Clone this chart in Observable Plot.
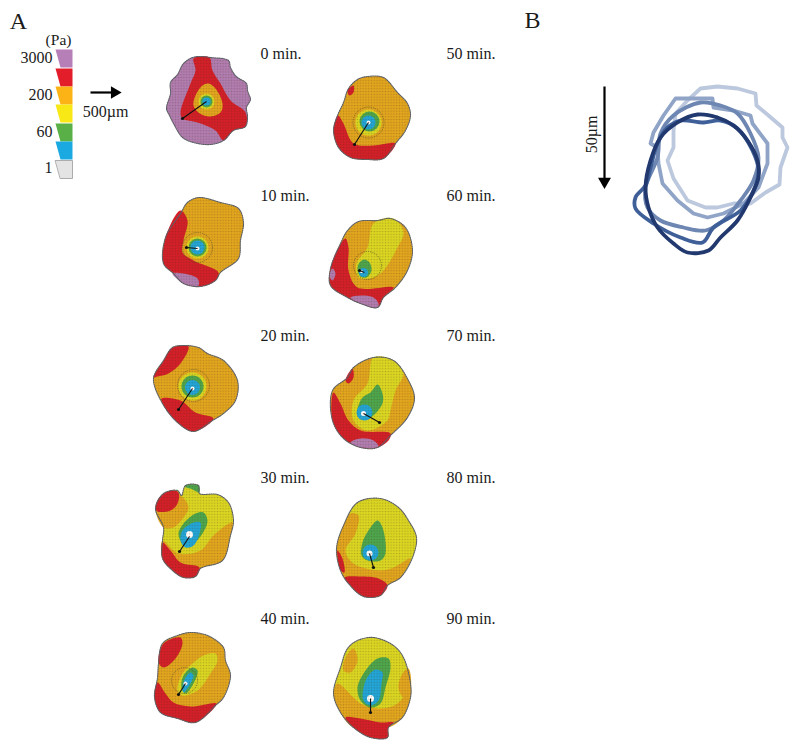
<!DOCTYPE html>
<html><head><meta charset="utf-8">
<script src="https://cdn.jsdelivr.net/npm/d3@7"></script>
<script src="https://cdn.jsdelivr.net/npm/@observablehq/plot@0.6"></script>
<style>html,body{margin:0;padding:0;background:#fff}svg{display:block}</style>
</head><body>
<svg width="0" height="0" style="position:absolute"><defs>
<pattern id="mesh" width="2.8" height="2.8" patternUnits="userSpaceOnUse"><circle cx="1.4" cy="1.4" r="0.8" fill="#3a2a10" fill-opacity="0.26"/></pattern>
</defs></svg>
<div id="chart"></div>
<script>
// Pressure levels
const purple="#b27db0", red="#d41f28", orange="#e3a61e", yellow="#dcd722", green="#4ea64c", blue="#22a6d8", white="#ffffff", grey="#e4e4e4";
const keyColors=[ "#b67fb8","#e31e2a","#fbb316","#f7e816","#58b046","#1ba9e2","#e4e4e4"];
const keyTop=[49,68,86,104,123,141,160];
const keyBottom=[67,86,104,122,141,159,178];
const keyLabels=["3000","200","60","1"];
const keyLabelY=[57,94,131,167];

// Panel A: 0 min
const t0Outline=[[200,56],[210,57],[228,60],[230,67],[234,74],[237,77],[246,83],[247,90],[248,93],[250,99],[246,107],[247,116],[245,126],[233,130],[223,140],[210,144],[193,142],[182,137],[173,123],[169,115],[166,108],[170,93],[170,82],[177,74],[183,63],[192,57]];
const t0Red=[[193,58],[200,56],[209,57],[212,70],[220,83],[230,100],[245,112],[245,126],[233,130],[223,140],[215,130],[197,122],[182,118],[180,112],[190,83],[195,70]];
const t0Orange=[[208,83],[215,88],[222,103],[220,112],[208,116],[198,112],[193,105],[195,95],[202,85]];
// 10 min
const t10Outline=[[198,197],[220,202],[238,208],[243,222],[240,240],[238,258],[220,272],[215,280],[200,286],[183,283],[173,273],[163,263],[165,237],[180,213],[187,202]];
const t10Red=[[180,210],[187,220],[183,240],[182,252],[193,260],[218,272],[215,280],[200,286],[183,283],[173,273],[163,263],[165,237]];
const t10Purple=[[172,273],[183,273],[197,278],[198,285],[183,283]];
// 20 min
const t20Outline=[[172,347],[183,345],[198,347],[207,353],[223,360],[237,380],[235,400],[223,413],[212,420],[193,431],[177,422],[162,403],[153,378],[163,360]];
const t20RedTop=[[172,347],[188,346],[180,363],[168,373],[157,376],[153,377],[163,360]];
const t20RedBottom=[[161,398],[180,400],[195,412],[213,418],[193,431],[177,422],[162,403]];
// 30 min
const t30Outline=[[185,485],[198,485],[199,493],[217,494],[228,502],[233,520],[230,535],[222,560],[200,568],[195,576],[183,577],[172,570],[162,558],[162,540],[163,527],[155,508],[163,493],[177,490],[181,495]];
const t30OrangeTop=[[155,508],[163,493],[180,495],[188,507],[183,517],[173,527],[163,527]];
const t30RedTop=[[155,508],[158,498],[170,490],[178,492],[177,503],[170,510],[157,511]];
const t30OrangeLow=[[162,540],[178,553],[200,550],[213,535],[232,522],[230,535],[222,560],[200,568],[195,576],[183,577],[172,570],[162,558]];
const t30RedLow=[[162,542],[170,550],[180,562],[199,567],[195,576],[183,577],[172,570],[162,558]];
const t30GreenTop=[[185,485],[198,485],[199,492],[190,488],[185,487]];
const t30Green=[[195,513],[203,512],[207,520],[202,533],[190,545],[182,543],[178,533],[183,523]];
const t30Blue=[[193,522],[200,522],[199,533],[193,545],[185,547],[180,540],[182,530]];
// 40 min
const t40Outline=[[190,632],[207,635],[223,647],[225,660],[230,675],[223,697],[215,705],[195,722],[177,718],[160,712],[154,697],[157,677],[158,663],[162,643],[177,635]];
const t40RedTop=[[163,643],[180,637],[182,643],[175,658],[163,667],[158,662]];
const t40RedLow=[[157,682],[165,693],[173,702],[190,706],[216,703],[195,722],[177,718],[160,712],[154,697]];
const t40Yellow=[[203,655],[215,653],[217,660],[210,673],[197,690],[182,695],[177,690],[182,673],[192,663]];
const t40Green=[[192,667],[197,670],[193,683],[185,693],[181,687],[183,675]];
const t40Blue=[[190,672],[193,675],[190,683],[183,692],[182,687],[185,677]];
// 50 min
const t50Outline=[[367,76],[383,77],[397,92],[407,103],[410,115],[405,130],[395,143],[383,158],[367,159],[350,157],[338,147],[333,130],[337,115],[343,102],[348,88],[357,79]];
const t50Red=[[338,115],[343,123],[353,143],[373,145],[395,143],[383,158],[367,159],[350,157],[338,147],[333,130],[337,115]];
const t50RedTop=[[347,90],[353,85],[353,92],[349,95]];
// 60 min
const t60Outline=[[358,221],[377,220],[390,218],[405,227],[412,250],[407,270],[395,287],[383,297],[377,307],[360,303],[347,297],[330,285],[330,268],[340,243],[347,230]];
const t60Red=[[345,238],[348,247],[348,270],[357,287],[393,287],[383,297],[377,307],[360,303],[347,297],[330,285],[330,268],[338,247]];
const t60PurpleLow=[[350,297],[362,295],[373,297],[378,303],[377,307],[360,303]];
const t60PurpleSide=[[332,268],[335,273],[332,280],[329,275]];
const t60Yellow=[[373,223],[393,218],[403,232],[397,247],[383,270],[373,277],[358,277],[356,263],[367,247]];
const t60Green=[[364,259],[369,262],[371,270],[366,277],[360,276],[357,269],[359,262]];
// 70 min
const t70Outline=[[373,357],[393,360],[408,380],[414,398],[407,417],[390,435],[377,447],[360,447],[343,438],[332,420],[332,390],[347,377],[353,367]];
const t70Red=[[333,392],[340,403],[348,420],[360,430],[390,433],[388,440],[377,447],[360,447],[343,438],[332,420]];
const t70RedTop=[[352,368],[353,377],[348,383],[345,380]];
const t70Purple=[[350,442],[360,438],[373,440],[378,446],[360,447]];
const t70Yellow=[[373,357],[393,360],[403,373],[395,390],[390,410],[387,420],[367,430],[353,420],[353,400],[367,383]];
const t70Green=[[377,384],[382,393],[382,403],[370,417],[360,418],[357,410],[362,397],[370,392]];
// 80 min
const t80Outline=[[357,502],[380,498],[398,507],[408,520],[416,537],[412,557],[400,577],[387,585],[380,595],[363,596],[348,583],[340,570],[336,548],[343,525]];
const t80Orange=[[350,513],[358,515],[355,533],[345,550],[353,563],[380,570],[393,567],[410,558],[400,577],[387,585],[380,595],[363,596],[348,583],[340,570],[336,548],[343,525]];
const t80RedLow=[[344,577],[360,576],[378,578],[387,585],[380,595],[363,596],[348,583]];
const t80RedSide=[[337,550],[342,558],[344,572],[340,570]];
const t80Green=[[377,520],[382,527],[385,553],[380,560],[367,560],[361,555],[362,542],[370,527]];
// 90 min
const t90Outline=[[357,640],[373,637],[393,645],[403,657],[410,683],[410,697],[402,717],[388,727],[387,737],[370,737],[353,727],[340,712],[333,693],[340,667],[347,648]];
const t90OrangeLow=[[333,693],[337,683],[353,697],[360,703],[380,708],[397,703],[410,687],[410,697],[402,717],[388,727],[353,727],[340,712]];
const t90OrangeTop=[[345,657],[353,648],[357,660],[350,672],[343,670]];
const t90OrangeSide=[[402,673],[408,668],[410,690],[403,697],[398,687]];
const t90Red=[[345,717],[360,718],[380,722],[393,722],[388,727],[387,737],[370,737],[353,727]];
const t90Green=[[377,658],[388,658],[390,667],[385,687],[380,703],[370,707],[360,700],[357,687],[363,673]];
const t90Blue=[[375,669],[382,672],[381,683],[378,700],[370,705],[363,700],[363,687],[368,675]];

// Shapes that touch the cell edge, painted in this order
const outerLayers=[
 [t0Outline,purple],[t0Red,red],[t10Outline,orange],[t10Red,red],[t10Purple,purple],
 [t20Outline,orange],[t20RedTop,red],[t20RedBottom,red],
 [t30Outline,yellow],[t30OrangeTop,orange],[t30RedTop,red],[t30OrangeLow,orange],[t30RedLow,red],[t30GreenTop,green],
 [t40Outline,orange],[t40RedTop,red],[t40RedLow,red],
 [t50Outline,orange],[t50Red,red],[t50RedTop,red],
 [t60Outline,orange],[t60Yellow,yellow],[t60Red,red],[t60PurpleLow,purple],[t60PurpleSide,purple],
 [t70Outline,orange],[t70Yellow,yellow],[t70Red,red],[t70RedTop,red],[t70Purple,purple],
 [t80Outline,yellow],[t80Orange,orange],[t80RedLow,red],[t80RedSide,red],
 [t90Outline,yellow],[t90OrangeLow,orange],[t90OrangeTop,orange],[t90OrangeSide,orange],[t90Red,red]
];
// Smooth inner contours
const innerLayers=[
 [t0Orange,orange],[t30Green,green],[t30Blue,blue],[t40Yellow,yellow],[t40Green,green],[t40Blue,blue],
 [t60Green,green],[t70Green,green],[t80Green,green],[t90Green,green],[t90Blue,blue]
];
const outlines=[t0Outline,t10Outline,t20Outline,t30Outline,t40Outline,t50Outline,t60Outline,t70Outline,t80Outline,t90Outline];

// Concentric centre spots: x, y, radius, colour
const spots=[
 [206,101,8,yellow],[206,101,6,green],[206,101,4,blue],
 [197,247,11,yellow],[197,247,9,green],[197,247,7,blue],[197,248,2,white],
 [192,386,14,yellow],[192,386,11,green],[192,387,7.5,blue],[192,388,2,white],
 [368,122,13,yellow],[369,121,10,green],[368,122,7,blue],[368,122,2,white],
 [363,272,4.5,blue],[361,271,1.5,white],
 [364,412,8,blue],[363,413,2.5,white],
 [370,552,8,blue],[369,553,3,white],
 [189,534,3.5,white],[185,683,2,white],[370,698,3.5,white]
];
// Thin contour rings: x, y, radius
const rings=[[197,247,15],[368,122,15.5],[193,385,16],[184,680,13],[367,265,14]];
// Stress direction arrows: x1, y1, x2, y2
const traction=[
 [206,101,182,118],[197,248,186,247],[192,388,178,409],[189,536,179,551],[185,683,178,694],
 [368,122,354,144],[364,272,359,270],[363,413,379,422],[369,553,373,567],[370,698,370,712]
];

// Panel B cell outlines, oldest first
const cellA=[[700,88],[717,86],[737,88],[755,93],[756,105],[768,115],[782,127],[782,137],[787,147],[780,167],[779,184],[765,192],[750,203],[733,203],[717,207],[705,207],[687,200],[673,178],[667,160],[673,147],[673,130],[675,113],[687,100]];
const cellB=[[675,98],[690,98],[712,98],[713,107],[733,110],[750,115],[752,123],[767,143],[767,163],[758,187],[743,203],[723,213],[707,217],[693,213],[677,200],[662,183],[658,163],[657,147],[650,143],[653,132],[663,115]];
const cellC=[[700,102],[720,105],[737,113],[750,133],[758,157],[753,180],[740,200],[723,220],[705,230],[683,227],[660,220],[647,207],[645,187],[657,157],[660,133],[673,115]];
const cellD=[[680,120],[703,122],[720,120],[737,128],[752,150],[758,170],[753,190],[740,210],[713,227],[702,242],[680,237],[653,223],[635,208],[635,197],[645,185],[650,167],[657,143],[667,127]];
const cellE=[[697,114],[717,117],[733,125],[747,140],[757,160],[758,177],[750,197],[737,220],[720,237],[708,250],[687,252],[673,243],[657,227],[648,207],[645,187],[650,160],[660,137],[677,122]];
const cellLayers=[[cellA,"#bcc8dd","linear-closed"],[cellB,"#8fa4c6","linear-closed"],[cellC,"#6d86b2","catmull-rom-closed"],[cellD,"#3f5f99","catmull-rom-closed"],[cellE,"#22396f","catmull-rom-closed"]];

// Time labels
const leftTimes=["0 min.","10 min.","20 min.","30 min.","40 min."];
const rightTimes=["50 min.","60 min.","70 min.","80 min.","90 min."];
const timeY=[53,195,335,477,618];
const timeLeftX=260, timeRightX=446;

const toRows=(layers)=>layers.flatMap(([pts,c],id)=>pts.map(([x,y])=>({id,c,x,y})));
const keyRows=keyColors.flatMap((c,i)=>[[55,keyTop[i]],[72,keyTop[i]],[72,keyBottom[i]],[60,keyBottom[i]]].map(([x,y])=>({id:i,c,x,y})));
const serif="Liberation Serif";
const txt={fontFamily:serif,fill:"#1a1a1a",stroke:null};
const smooth="catmull-rom-closed";

const chart=Plot.plot({
  width:800,height:751,margin:0,
  x:{domain:[0,800],range:[0,800],axis:null},
  y:{domain:[0,751],range:[0,751],axis:null},
  color:{type:"identity"},
  r:{type:"identity"},
  marks:[
    // key
    Plot.line(keyRows,{x:"x",y:"y",z:"id",fill:"c",stroke:"none",curve:"linear-closed"}),
    Plot.line(keyRows.filter(d=>d.id===6),{x:"x",y:"y",z:"id",stroke:"#9a9a9a",strokeWidth:0.8,curve:"linear-closed"}),
    Plot.text(["(Pa)"],{x:[58],y:[40],text:d=>d,fontSize:15.5,...txt}),
    Plot.text(keyLabels,{x:keyLabels.map(()=>52),y:keyLabelY,text:d=>d,fontSize:16,textAnchor:"end",...txt}),
    Plot.link([[90,92,113,92]],{x1:d=>d[0],y1:d=>d[1],x2:d=>d[2],y2:d=>d[3],stroke:"black",strokeWidth:2.2}),
    Plot.dot([[114,92]],{x:d=>d[0],y:d=>d[1],symbol:"triangle",rotate:90,r:4.6,fill:"black",stroke:null}),
    Plot.text(["500µm"],{x:[105],y:[111],text:d=>d,fontSize:16,...txt}),
    // cells
    Plot.line(toRows(outerLayers),{x:"x",y:"y",z:"id",fill:"c",stroke:"none",curve:smooth}),
    Plot.line(toRows(innerLayers),{x:"x",y:"y",z:"id",fill:"c",stroke:"none",curve:smooth}),
    Plot.dot(spots,{x:d=>d[0],y:d=>d[1],r:d=>d[2],fill:d=>d[3],stroke:null}),
    Plot.dot(rings,{x:d=>d[0],y:d=>d[1],r:d=>d[2],stroke:"#55522a",strokeWidth:0.6,strokeDasharray:"1.2,1",fill:"none"}),
    Plot.line(toRows(outlines.map(o=>[o,"x"])),{x:"x",y:"y",z:"id",fill:"url(#mesh)",stroke:"#5c5f66",strokeWidth:1.1,strokeDasharray:"1.2,1",curve:smooth}),
    Plot.link(traction,{x1:d=>d[0],y1:d=>d[1],x2:d=>d[2],y2:d=>d[3],stroke:"#111",strokeWidth:1.1}),
    Plot.dot(traction,{x:d=>d[2],y:d=>d[3],r:()=>1.6,fill:"#111",stroke:null}),
    // time labels
    Plot.text(leftTimes,{x:leftTimes.map(()=>timeLeftX),y:timeY,text:d=>d,fontSize:16,textAnchor:"start",...txt}),
    Plot.text(rightTimes,{x:rightTimes.map(()=>timeRightX),y:timeY,text:d=>d,fontSize:16,textAnchor:"start",...txt}),
    // panel B
    ...cellLayers.map(([pts,c,curve])=>Plot.line(pts,{x:d=>d[0],y:d=>d[1],stroke:c,strokeWidth:3.8,curve,strokeLinejoin:"round"})),
    Plot.link([[604,86,604,178]],{x1:d=>d[0],y1:d=>d[1],x2:d=>d[2],y2:d=>d[3],stroke:"black",strokeWidth:2.2}),
    Plot.dot([[604,181]],{x:d=>d[0],y:d=>d[1],symbol:"triangle",rotate:180,r:4.8,fill:"black",stroke:null}),
    Plot.text(["50µm"],{x:[591],y:[134],text:d=>d,fontSize:16,rotate:-90,...txt}),
    // panel letters
    Plot.text(["A"],{x:[18],y:[21],text:d=>d,fontSize:24,...txt}),
    Plot.text(["B"],{x:[532],y:[20],text:d=>d,fontSize:24,...txt})
  ]
});
document.getElementById("chart").appendChild(chart);
</script>
</body></html>
